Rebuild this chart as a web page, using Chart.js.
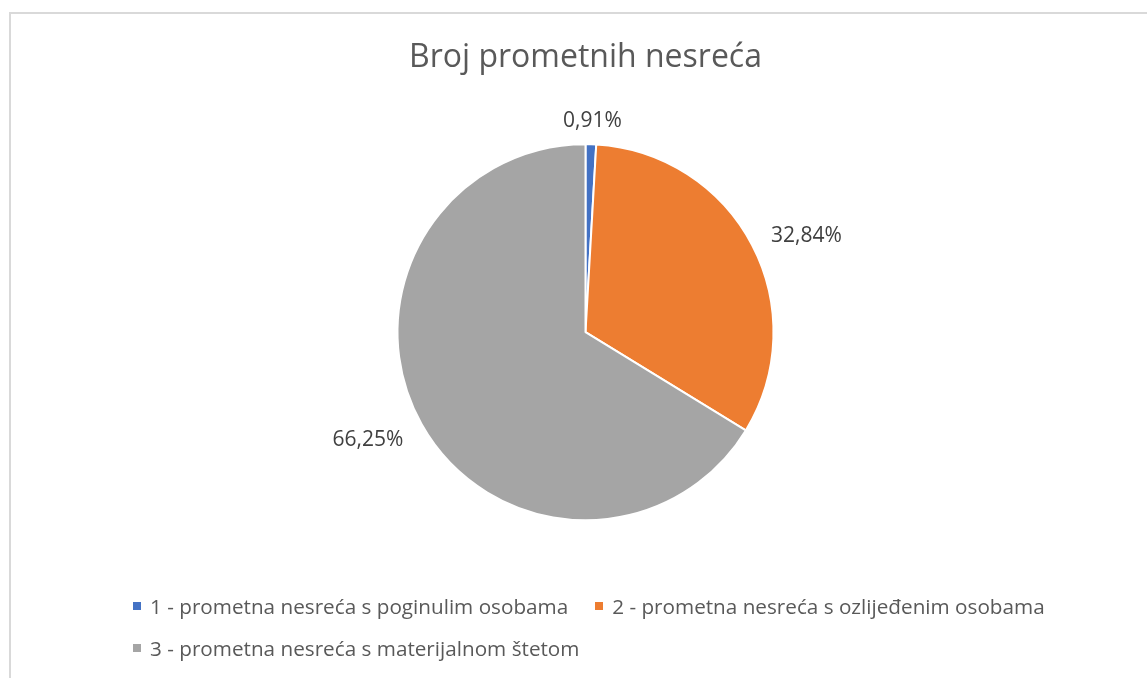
<!DOCTYPE html>
<html>
<head>
<meta charset="utf-8">
<title>Broj prometnih nesreća</title>
<script src="https://cdn.jsdelivr.net/npm/chart.js@4.4.1/dist/chart.umd.min.js"></script>
<style>
    html, body { margin: 0; padding: 0; background: #fff; overflow: hidden; }
    #wrap { position: relative; width: 1147px; height: 678px; }
    #frame {
        position: absolute; left: 9px; top: 12px; width: 1200px; height: 800px;
        border: 2px solid #d9d9d9; box-sizing: border-box;
    }
    #pieChart { position: absolute; left: 0; top: 0; }
    #legend {
        position: absolute; left: 133px; top: 590px; width: 960px;
        display: flex; flex-wrap: wrap; column-gap: 27px; row-gap: 10px;
        font-family: "Open Sans", sans-serif; font-size: 20.7px; color: #595959;
    }
    .item { display: flex; align-items: center; height: 32px; white-space: nowrap; }
    .box { width: 8px; height: 8px; margin-right: 9px; }
</style>
</head>
<body>
<div id="wrap">
    <div id="frame"></div>
    <canvas id="pieChart" width="1147" height="678"></canvas>
    <div id="legend"></div>
</div>
<script>
const chartTitle = 'Broj prometnih nesreća';
const categories = [
    '1 - prometna nesreća s poginulim osobama',
    '2 - prometna nesreća s ozlijeđenim osobama',
    '3 - prometna nesreća s materijalnom štetom'
];
const shares = [0.91, 32.84, 66.25];   // postoci
const sliceColors = ['#4472C4', '#ED7D31', '#A5A5A5'];

// 0.91 -> "0,91%"
function formatPct(v) {
    return v.toFixed(2).replace('.', ',') + '%';
}

// postoci izvan kruga (kao "outside end" u Excelu)
const pctLabels = {
    id: 'pctLabels',
    afterDatasetsDraw(chart) {
        const ctx = chart.ctx;
        const meta = chart.getDatasetMeta(0);
        ctx.save();
        ctx.font = '21px "Open Sans"';
        ctx.fillStyle = '#404040';
        ctx.textAlign = 'center';
        ctx.textBaseline = 'alphabetic';
        meta.data.forEach((arc, i) => {
            const p = arc.getProps(['x', 'y', 'startAngle', 'endAngle', 'outerRadius'], true);
            const mid = (p.startAngle + p.endAngle) / 2;
            const ux = Math.cos(mid), uy = Math.sin(mid);
            const text = formatPct(shares[i]);
            const halfW = ctx.measureText(text).width / 2;
            const t = p.outerRadius + 26;
            const cx = p.x + t * ux + halfW * ux;
            const cy = p.y + t * uy;
            ctx.fillText(text, cx, cy + 9);   // +9 ~ pola visine znamenke
        });
        ctx.restore();
    }
};

const ctx = document.getElementById('pieChart').getContext('2d');
const pieChart = new Chart(ctx, {
    type: 'pie',
    data: {
        labels: categories,
        datasets: [{
            data: shares,
            backgroundColor: sliceColors,
            borderColor: '#ffffff',
            borderWidth: 2,
            radius: 188
        }]
    },
    options: {
        responsive: false,
        animation: false,
        layout: { padding: { left: 24, right: 0, top: 39, bottom: 91 } },
        plugins: {
            legend: { display: false },
            tooltip: { enabled: false },
            title: {
                display: true,
                text: chartTitle,
                color: '#595959',
                font: { family: '"Open Sans"', size: 32, weight: 'normal' },
                padding: { top: 0, bottom: 0 }
            }
        }
    },
    plugins: [pctLabels]
});

// legenda (html)
const legendEl = document.getElementById('legend');
categories.forEach((name, i) => {
    const item = document.createElement('div');
    item.className = 'item';
    item.innerHTML = `<span class="box" style="background:${sliceColors[i]}"></span><span>${name}</span>`;
    legendEl.appendChild(item);
});
</script>
</body>
</html>
